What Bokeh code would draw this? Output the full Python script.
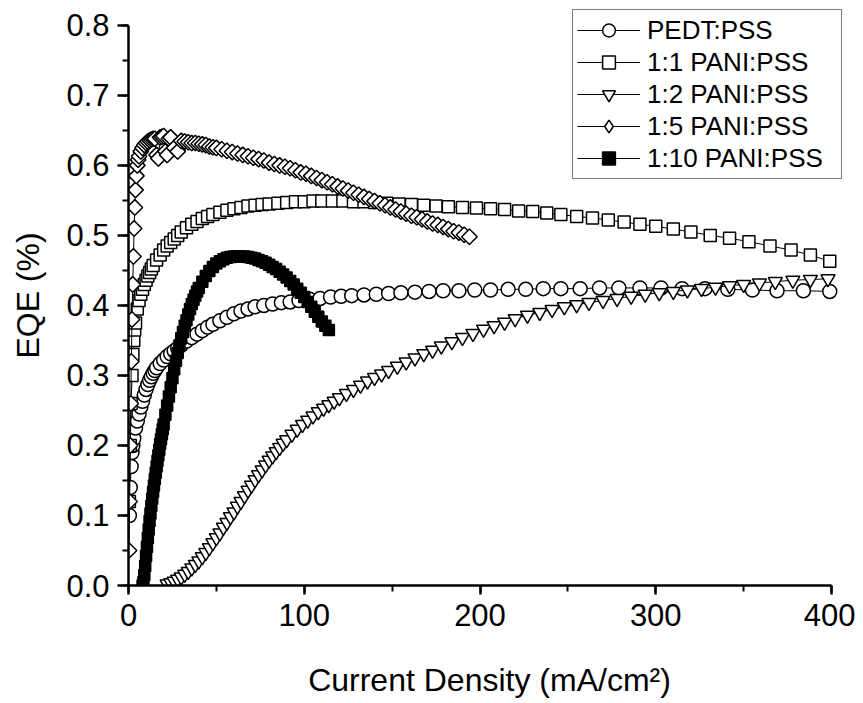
import math
from bokeh.plotting import figure
from bokeh.models import Range1d, SingleIntervalTicker, PrintfTickFormatter, Legend, LegendItem, LinearAxis
from bokeh.embed import file_html
from bokeh.resources import INLINE

# ---------------- data ----------------
pedt_x = [0.5, 1, 1.5, 2, 2.5, 3, 4, 5, 6, 7, 8, 9, 10, 11, 12, 13, 14, 15, 16, 18, 20, 22, 24, 26, 28, 30,
          33, 36, 39, 42, 45, 48, 52, 56, 60, 64, 68, 72, 77, 82, 87, 92, 97, 103, 109, 115, 121, 127, 134,
          141, 148, 155, 163, 171, 179, 188, 197, 206, 216, 226, 236, 246, 257, 268, 279, 291, 303, 315,
          328, 341, 355, 369, 384, 399]
pedt_y = [0.10, 0.14, 0.17, 0.19, 0.20, 0.21, 0.225, 0.235, 0.245, 0.255, 0.263, 0.272, 0.28, 0.287, 0.293,
          0.298, 0.303, 0.307, 0.311, 0.317, 0.322, 0.327, 0.331, 0.335, 0.339, 0.343, 0.349, 0.354, 0.359,
          0.364, 0.369, 0.373, 0.378, 0.383, 0.388, 0.392, 0.395, 0.398, 0.400, 0.402, 0.404, 0.405, 0.407,
          0.409, 0.410, 0.412, 0.413, 0.414, 0.415, 0.416, 0.417, 0.418, 0.419, 0.420, 0.421, 0.421, 0.422,
          0.422, 0.423, 0.423, 0.424, 0.424, 0.424, 0.425, 0.425, 0.425, 0.425, 0.424, 0.424, 0.423, 0.422,
          0.421, 0.421, 0.420]

p11_x = [0.5, 1, 1.5, 2, 2.5, 3, 3.5, 4, 5, 6, 7, 8, 9, 10, 11, 12, 13, 14, 16, 18, 20, 22, 24, 26, 28, 30,
         33, 36, 39, 42, 45, 48, 52, 56, 60, 64, 68, 72, 76, 80, 85, 90, 95, 100, 105, 110, 116, 122, 128,
         134, 140, 147, 154, 161, 168, 175, 182, 190, 198, 206, 214, 222, 230, 238, 246, 255, 264, 273, 282,
         291, 300, 310, 320, 331, 342, 353, 365, 377, 388, 399]
p11_y = [0.12, 0.20, 0.26, 0.30, 0.33, 0.35, 0.365, 0.375, 0.395, 0.407, 0.416, 0.423, 0.43, 0.436, 0.442,
         0.447, 0.452, 0.457, 0.465, 0.472, 0.479, 0.485, 0.49, 0.495, 0.5, 0.505, 0.511, 0.516, 0.52, 0.524,
         0.527, 0.53, 0.533, 0.536, 0.538, 0.54, 0.542, 0.543, 0.544, 0.545, 0.546, 0.547, 0.548, 0.548,
         0.549, 0.549, 0.549, 0.549, 0.548, 0.548, 0.547, 0.546, 0.545, 0.544, 0.543, 0.542, 0.541, 0.54,
         0.539, 0.538, 0.537, 0.535, 0.534, 0.532, 0.53, 0.527, 0.525, 0.522, 0.519, 0.516, 0.513, 0.509,
         0.505, 0.5, 0.496, 0.491, 0.485, 0.479, 0.472, 0.463]

p12_x = [22, 24, 26, 28, 30, 32, 34, 36, 38, 40, 42, 44, 46, 48, 50, 52, 54, 56, 58, 60, 62, 64, 66, 68, 70,
         72, 74, 76, 78, 80, 82, 84, 86, 88, 90, 93, 96, 99, 102, 105, 108, 111, 114, 117, 120, 124, 128,
         132, 136, 140, 144, 148, 153, 158, 163, 168, 173, 178, 184, 190, 196, 202, 208, 214, 220, 227, 234,
         241, 248, 255, 262, 270, 278, 286, 294, 302, 310, 318, 326, 334, 342, 350, 359, 368, 378, 388, 398]
p12_y = [0.002, 0.004, 0.006, 0.009, 0.012, 0.016, 0.02, 0.025, 0.03, 0.035, 0.041, 0.047, 0.054, 0.061,
         0.068, 0.075, 0.083, 0.09, 0.098, 0.105, 0.113, 0.12, 0.128, 0.136, 0.143, 0.151, 0.158, 0.165,
         0.172, 0.179, 0.185, 0.191, 0.197, 0.203, 0.208, 0.216, 0.223, 0.23, 0.236, 0.242, 0.248, 0.253,
         0.258, 0.263, 0.268, 0.274, 0.28, 0.286, 0.292, 0.297, 0.302, 0.307, 0.313, 0.319, 0.325, 0.331,
         0.336, 0.342, 0.348, 0.354, 0.36, 0.366, 0.371, 0.376, 0.381, 0.386, 0.39, 0.394, 0.398, 0.401,
         0.404, 0.407, 0.41, 0.413, 0.416, 0.418, 0.42, 0.422, 0.424, 0.426, 0.428, 0.43, 0.432, 0.434,
         0.436, 0.437, 0.438]

p15_x = [0.3, 0.6, 1, 1.3, 1.6, 2, 2.4, 2.8, 3.2, 3.6, 4, 4.5, 5, 5.5, 6, 7, 8, 9, 10, 11, 12, 13, 14, 15, 16,
         17, 18, 19, 20, 21, 22, 23, 24, 26, 28, 30, 32, 34, 36, 38, 40, 42, 44, 46, 48, 50, 53, 56, 59, 62,
         65, 68, 71, 74, 77, 80, 83, 86, 89, 92, 95, 98, 101, 104, 107, 110, 113, 116, 119, 122, 125, 128,
         131, 134, 137, 140, 143, 146, 149, 152, 155, 158, 161, 164, 167, 170, 173, 176, 179, 182, 185, 188,
         191, 194]
p15_y = [0.05, 0.12, 0.20, 0.26, 0.32, 0.38, 0.43, 0.47, 0.51, 0.54, 0.565, 0.585, 0.60, 0.608, 0.613, 0.62,
         0.625, 0.629, 0.632, 0.634, 0.636, 0.637, 0.638, 0.638, 0.615, 0.61, 0.64, 0.641, 0.642, 0.62, 0.615,
         0.638, 0.64, 0.625, 0.62, 0.635, 0.634, 0.633, 0.632, 0.632, 0.631, 0.63, 0.629, 0.627, 0.626, 0.625,
         0.623, 0.621, 0.619, 0.617, 0.615, 0.613, 0.611, 0.609, 0.607, 0.604, 0.602, 0.6, 0.598, 0.596,
         0.593, 0.59, 0.588, 0.585, 0.582, 0.579, 0.576, 0.573, 0.57, 0.567, 0.564, 0.561, 0.558, 0.555,
         0.552, 0.549, 0.546, 0.543, 0.54, 0.537, 0.534, 0.531, 0.528, 0.526, 0.523, 0.52, 0.517, 0.515,
         0.512, 0.509, 0.506, 0.504, 0.501, 0.498]

p110_x = [8, 8.5, 9, 9.5, 10, 10.5, 11, 11.5, 12, 12.5, 13, 13.5, 14, 14.5, 15, 15.5, 16, 16.5, 17, 17.5, 18,
          18.5, 19, 19.5, 20, 21, 22, 23, 24, 25, 26, 27, 28, 29, 30, 31, 32, 33, 34, 35, 36, 37, 38, 39, 40,
          42, 44, 46, 48, 50, 52, 54, 56, 58, 60, 62, 64, 66, 68, 70, 72, 74, 76, 78, 80, 82, 84, 86, 88, 90,
          92, 94, 96, 98, 100, 102, 104, 106, 108, 110, 112, 114]
p110_y = [0.0, 0.005, 0.015, 0.028, 0.042, 0.055, 0.068, 0.08, 0.092, 0.103, 0.114, 0.124, 0.134, 0.143,
          0.152, 0.161, 0.17, 0.178, 0.186, 0.194, 0.202, 0.209, 0.216, 0.223, 0.23, 0.244, 0.257, 0.27,
          0.283, 0.296, 0.309, 0.321, 0.332, 0.343, 0.353, 0.362, 0.371, 0.379, 0.387, 0.395, 0.402, 0.408,
          0.414, 0.42, 0.425, 0.434, 0.442, 0.449, 0.455, 0.46, 0.463, 0.466, 0.468, 0.469, 0.47, 0.47, 0.47,
          0.47, 0.469, 0.468, 0.467, 0.465, 0.463, 0.461, 0.458, 0.455, 0.452, 0.448, 0.444, 0.44, 0.435,
          0.43, 0.424, 0.418, 0.412, 0.405, 0.398, 0.391, 0.384, 0.377, 0.371, 0.365]

labels = ["PEDT:PSS", "1:1 PANI:PSS", "1:2 PANI:PSS", "1:5 PANI:PSS", "1:10 PANI:PSS"]
x_label = "Current Density (mA/cm²)"
y_label = "EQE (%)"

# ---------------- layout ----------------
# axes span 0..400 and 0..0.8; the frame is a little larger so the legend
# (which pokes above / right of the axes) is not clipped.
X_END, Y_END = 400, 0.8
PX_X = 703.0 / X_END      # pixels per x unit
PX_Y = 564.0 / Y_END      # pixels per y unit
FRAME_L, FRAME_T, FRAME_B, FRAME_R = 128, 5, 589, 850
x_range = Range1d(0, (FRAME_R - FRAME_L) / PX_X)
y_range = Range1d(0, (FRAME_B - FRAME_T) / PX_Y)

p = figure(width=855, height=700, output_backend="svg", toolbar_location=None,
           x_range=x_range, y_range=y_range,
           min_border_left=FRAME_L, min_border_right=855 - FRAME_R, min_border_top=FRAME_T,
           min_border_bottom=700 - FRAME_B,
           x_axis_location=None, y_axis_location=None)
p.outline_line_color = None
p.xgrid.visible = False
p.ygrid.visible = False
p.background_fill_color = "white"
p.border_fill_color = "white"

xa = LinearAxis(ticker=SingleIntervalTicker(interval=100, num_minor_ticks=2), axis_label=x_label,
                bounds=(0, X_END))
ya = LinearAxis(ticker=SingleIntervalTicker(interval=0.1, num_minor_ticks=2), axis_label=y_label,
                formatter=PrintfTickFormatter(format="%.1f"), bounds=(0, Y_END))
for ax in (xa, ya):
    ax.axis_line_width = 2.5
    ax.axis_line_color = "black"
    ax.major_tick_line_width = 2.5
    ax.minor_tick_line_width = 2
    ax.major_tick_in = 0
    ax.minor_tick_in = 0
    ax.minor_tick_out = 6
    ax.major_label_text_font = "Liberation Sans"
    ax.major_label_text_font_size = "31px"
    ax.major_label_text_color = "black"
    ax.axis_label_text_font = "Liberation Sans"
    ax.axis_label_text_font_size = "32px"
    ax.axis_label_text_font_style = "normal"
    ax.axis_label_text_color = "black"
xa.major_tick_out = 9
ya.major_tick_out = 11
xa.major_label_standoff = 9
xa.axis_label_standoff = 33
ya.major_label_standoff = 8
ya.axis_label_standoff = 17
p.add_layout(xa, "below")
p.add_layout(ya, "left")

series = [
    (pedt_x, pedt_y, "circle", 14, "white", 0),
    (p11_x, p11_y, "square", 12, "white", 0),
    (p12_x, p12_y, "inverted_triangle", 14, "white", 0),
    (p15_x, p15_y, "square", 11, "white", math.pi / 4),
    (p110_x, p110_y, "square", 11, "black", 0),
]
legend_markers = ["circle", "square", "inverted_triangle", "diamond", "square"]
legend_fills = ["white", "white", "white", "white", "black"]

items = []
for (xs, ys, mk, sz, fill, ang), lab, lmk, lfill in zip(series, labels, legend_markers, legend_fills):
    ln = p.line(xs, ys, line_color="black", line_width=1)
    p.scatter(xs, ys, marker=mk, size=sz, angle=ang, fill_color=fill, line_color="black", line_width=1.5)
    # hidden twin renderer only used to draw the legend's marker shape
    lg = p.scatter(xs, ys, marker=lmk, size=12, fill_color=lfill, line_color="black", line_width=1.5,
                   visible=False)
    items.append(LegendItem(label=lab, renderers=[ln, lg]))

legend = Legend(items=items, location=(572 - FRAME_L, FRAME_B - 183))
legend.label_text_font = "Liberation Sans"
legend.label_text_font_size = "26px"
legend.label_text_color = "black"
legend.glyph_width = 63
legend.glyph_height = 32
legend.label_height = 32
legend.label_width = 190
legend.label_standoff = 7
legend.spacing = 0
legend.padding = 4
legend.margin = 0
legend.inactive_fill_alpha = 0
legend.click_policy = "none"
legend.border_line_color = "black"
legend.border_line_width = 1.5
legend.background_fill_color = "white"
legend.background_fill_alpha = 1
p.add_layout(legend, "center")

open("out.html", "w").write(file_html(p, INLINE))
